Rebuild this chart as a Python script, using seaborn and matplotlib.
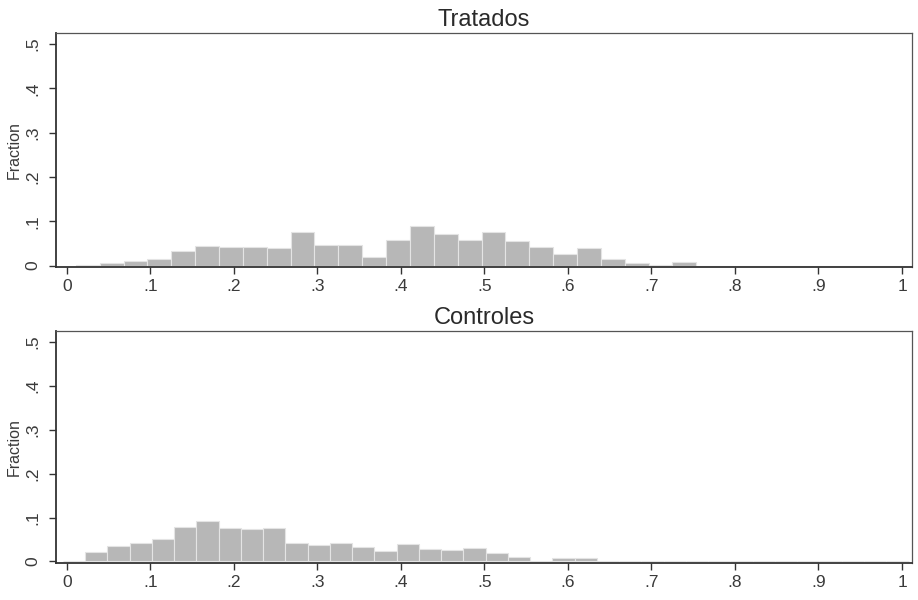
import numpy as np
import pandas as pd
import matplotlib
matplotlib.use("Agg")
import matplotlib.pyplot as plt
import seaborn as sns

# Propensity-score histograms (fraction of observations per bin)
treated_start, treated_width = 0.0108, 0.02857
treated_frac = [0.002, 0.007, 0.0105, 0.016, 0.034, 0.045, 0.041, 0.043, 0.039,
                0.076, 0.047, 0.047, 0.019, 0.057, 0.090, 0.071, 0.058, 0.075,
                0.056, 0.041, 0.026, 0.039, 0.015, 0.006, 0.001, 0.009,
                0.0, 0.0, 0.0, 0.0, 0.0, 0.0, 0.0, 0.0, 0.0]

control_start, control_width = -0.0049, 0.02665
control_frac = [0.002, 0.022, 0.036, 0.043, 0.051, 0.079, 0.092, 0.077, 0.073,
                0.077, 0.042, 0.037, 0.042, 0.032, 0.023, 0.041, 0.028, 0.026,
                0.030, 0.019, 0.011, 0.002, 0.0075, 0.0075, 0.002, 0.001,
                0.0, 0.0, 0.0, 0.0, 0.0, 0.0, 0.0, 0.0, 0.0, 0.0, 0.0, 0.0]

panel_titles = ["Tratados", "Controles"]
x_ticks = [0, 0.1, 0.2, 0.3, 0.4, 0.5, 0.6, 0.7, 0.8, 0.9, 1.0]
x_tick_labels = ["0", ".1", ".2", ".3", ".4", ".5", ".6", ".7", ".8", ".9", "1"]
y_ticks = [0, 0.1, 0.2, 0.3, 0.4, 0.5]
y_tick_labels = ["0", ".1", ".2", ".3", ".4", ".5"]
y_label = "Fraction"

sns.set_theme(style="white")
plt.rcParams["font.family"] = ["Liberation Sans", "DejaVu Sans"]

fig = plt.figure(figsize=(9.18, 6.0), dpi=100)
ax_top = fig.add_axes([0.061, 0.555, 0.9325, 0.39])
ax_bot = fig.add_axes([0.061, 0.062, 0.9325, 0.386])

panels = [
    (ax_top, panel_titles[0], treated_start, treated_width, treated_frac),
    (ax_bot, panel_titles[1], control_start, control_width, control_frac),
]

for ax, title, start, width, frac in panels:
    n = len(frac)
    edges = [float(start + width * i) for i in range(n + 1)]
    centers = [(edges[i] + edges[i + 1]) / 2 for i in range(n)]
    df = pd.DataFrame({"pscore": centers, "fraction": frac})
    sns.histplot(data=df, x="pscore", weights="fraction", bins=edges, ax=ax,
                 color="#b7b7b7", edgecolor="#e4e4e4", linewidth=0.8, alpha=1.0)
    ax.set_xlim(-0.013, 1.012)
    ax.set_ylim(-0.003, 0.525)
    ax.set_xticks(x_ticks)
    ax.set_xticklabels(x_tick_labels, fontsize=12.5, color="#3a3a3a")
    ax.set_yticks(y_ticks)
    ax.set_yticklabels(y_tick_labels, fontsize=12.5, color="#3a3a3a",
                       rotation=90, va="center")
    ax.set_xlabel("")
    ax.set_ylabel(y_label, fontsize=11.5, color="#3a3a3a", labelpad=3)
    ax.set_title(title, fontsize=17, color="#2a2a2a", pad=5)
    ax.tick_params(axis="x", direction="out", length=5, width=1.0,
                   color="#333333", bottom=True, pad=4)
    ax.tick_params(axis="y", direction="out", length=5, width=1.0,
                   color="#333333", left=True, pad=6)
    for side in ["left", "bottom"]:
        ax.spines[side].set_color("#333333")
        ax.spines[side].set_linewidth(1.3)
    for side in ["top", "right"]:
        ax.spines[side].set_color("#555555")
        ax.spines[side].set_linewidth(0.9)
    ax.grid(False)

fig.savefig("out.png", dpi=100, facecolor="white")
